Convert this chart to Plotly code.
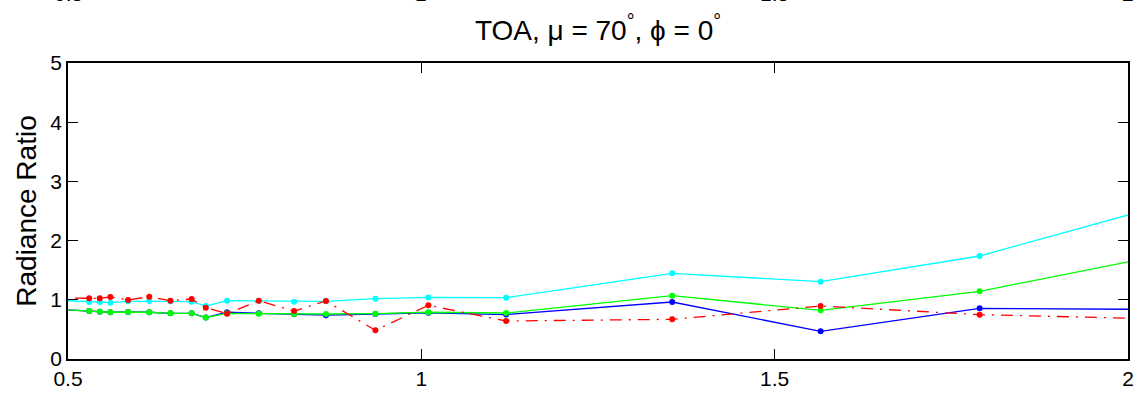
import plotly.graph_objects as go

# Wavelengths (micrometres) shared by all four curves
wavelength = [0.47, 0.53, 0.545, 0.56, 0.585, 0.615, 0.645, 0.675, 0.695, 0.725,
              0.77, 0.82, 0.865, 0.935, 1.01, 1.12, 1.355, 1.565, 1.79, 2.13]

ratio_blue = [0.85, 0.81, 0.80, 0.79, 0.794, 0.79, 0.772, 0.772, 0.70, 0.79,
              0.772, 0.76, 0.74, 0.76, 0.78, 0.75, 0.963, 0.467, 0.856, 0.83]
ratio_cyan = [1.00, 0.963, 0.963, 0.951, 0.975, 0.98, 0.975, 0.968, 0.895, 0.985,
              0.98, 0.968, 0.975, 1.019, 1.04, 1.036, 1.447, 1.306, 1.74, 2.86]
ratio_green = [0.85, 0.81, 0.80, 0.79, 0.794, 0.79, 0.772, 0.772, 0.70, 0.772,
               0.766, 0.76, 0.76, 0.766, 0.79, 0.777, 1.07, 0.822, 1.143, 1.95]
ratio_red = [1.03, 1.025, 1.025, 1.047, 0.997, 1.053, 0.985, 1.013, 0.867, 0.766,
             0.985, 0.81, 0.98, 0.485, 0.907, 0.642, 0.67, 0.895, 0.749, 0.653]

x_ticks = [0.5, 1, 1.5, 2]
x_tick_text = ["0.5", "1", "1.5", "2"]
y_ticks = [0, 1, 2, 3, 4, 5]

FONT = "Liberation Sans, Arial, Helvetica, sans-serif"

fig = go.Figure()

series = [
    (ratio_blue, "#0000FF", "solid"),
    (ratio_cyan, "#00FFFF", "solid"),
    (ratio_green, "#00FF00", "solid"),
    (ratio_red, "#FF0000", "12px,7px,2px,7px"),
]
for values, color, dash in series:
    fig.add_trace(go.Scatter(
        x=wavelength, y=values, mode="lines+markers",
        line=dict(color=color, width=1.3, dash=dash),
        marker=dict(color=color, size=6, line=dict(width=0)),
        showlegend=False,
    ))

axis_common = dict(
    showgrid=False, zeroline=False, showline=True, linecolor="black",
    linewidth=1.5, mirror="ticks", ticks="inside", ticklen=10,
    tickwidth=1, tickcolor="black",
    tickfont=dict(family=FONT, size=21, color="black"),
)

fig.update_xaxes(range=[0.5, 2], tickvals=x_ticks, ticktext=x_tick_text, **axis_common)
fig.update_yaxes(range=[0, 5], tickvals=y_ticks,
                 title=dict(text="Radiance Ratio", standoff=6,
                            font=dict(family=FONT, size=28, color="black")),
                 **axis_common)

# Tick labels of the panel above, cut off at the top edge of the page
for val, txt in zip(x_ticks, x_tick_text):
    fig.add_annotation(x=val, xref="x", y=1.188, yref="paper", yanchor="bottom",
                       text=txt, showarrow=False,
                       font=dict(family=FONT, size=21, color="black"))

fig.update_layout(
    width=1144, height=402,
    margin=dict(l=68, r=10, t=63, b=43),
    paper_bgcolor="white", plot_bgcolor="white",
    title=dict(text="TOA, μ = 70<sup>°</sup>, ϕ = 0<sup>°</sup>",
               x=0.5, xref="paper", xanchor="center",
               y=0.925, yref="container", yanchor="middle",
               font=dict(family=FONT, size=28, color="black")),
)

fig.write_html("out.html")
